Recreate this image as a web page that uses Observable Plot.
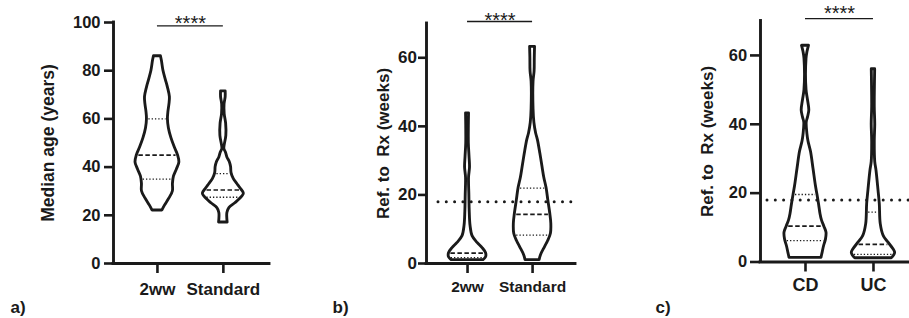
<!DOCTYPE html>
<html><head><meta charset="utf-8">
<script src="https://cdn.jsdelivr.net/npm/d3@7"></script>
<script src="https://cdn.jsdelivr.net/npm/@observablehq/plot@0.6"></script>
<style>
body{margin:0;background:#fff;}
#wrap{position:relative;width:909px;height:318px;overflow:hidden;background:#fff;}
#wrap svg{position:absolute;top:0;}
</style></head><body><div id="wrap"></div>
<script>
// ---------- Panel a: median age ----------
const aCats = ["2ww", "Standard"];
const aTicks = [0, 20, 40, 60, 80, 100];
// violin profiles: [value, half-width in category units]
const a2ww = [[86,.053],[84,.068],[80,.091],[76,.129],[73,.159],[69,.189],[66,.182],[63,.167],[60,.159],[56,.174],[52,.212],[48,.265],[45,.311],[42,.333],[39,.295],[36,.25],[33,.235],[30,.235],[27,.182],[24,.114],[22,.076]];
const aStd = [[71.4,.035],[69,.035],[66,.018],[62,.02],[58,.042],[53,.045],[49,.02],[47.5,.015],[46,.04],[44,.061],[42,.098],[40,.117],[37.5,.124],[35,.159],[33,.212],[31,.265],[29,.311],[27.6,.283],[25,.182],[23,.091],[21,.061],[17,.065]];
const aQuart = [[35, 45, 60], [27.5, 30.5, 37.3]]; // q1, median, q3
const aSig = 98.6;

// ---------- Panel b: referral to treatment, 2ww vs standard ----------
const bCats = ["2ww", "Standard"];
const bTicks = [0, 20, 40, 60];
const b2ww = [[43.8,.023],[40,.02],[35,.02],[31,.031],[28,.038],[25,.023],[20,.028],[15,.034],[11,.046],[8,.077],[6,.154],[4.5,.231],[3,.285],[1.8,.285],[1,.246]];
const bStd = [[63.2,.038],[60,.034],[56,.031],[53,.015],[45,.015],[41,.028],[38,.054],[36,.082],[32,.12],[28,.154],[25,.18],[22,.215],[18.4,.242],[14.5,.272],[11.6,.288],[8.7,.282],[6.5,.238],[4.8,.192],[2.5,.131],[1,.108]];
const bQuart = [[1.7, 3.0, null], [8.3, 14.3, 22]];
const bSig = 70.6;
const bRef = 18;

// ---------- Panel c: referral to treatment, CD vs UC ----------
const cCats = ["CD", "UC"];
const cTicks = [0, 20, 40, 60];
const cCD = [[62.8,.051],[61,.029],[59,.015],[50,.015],[47,.037],[44,.056],[42,.037],[40.5,.018],[37,.029],[35,.044],[32,.081],[27,.118],[22,.154],[19.5,.176],[16.8,.199],[13.9,.221],[12,.243],[10.2,.279],[8.5,.309],[6.5,.301],[4.5,.272],[2.5,.25],[1.2,.235]];
const cUC = [[56,.025],[45,.019],[40,.026],[35,.019],[29,.026],[26.6,.044],[20.8,.074],[16.8,.093],[11,.107],[7.5,.151],[5.6,.221],[3.7,.294],[2.7,.319],[1.8,.301],[1.1,.269]];
const cQuart = [[6.2, 10.4, 19.6], [2.2, 5.1, 14.5]];
const cSig = 70.7;
const cRef = 18;

const stars = "****";
const ink = "#1a1a1a";

function hwAt(profile, v) {
  for (let k = 0; k < profile.length - 1; k++) {
    const [v0, w0] = profile[k], [v1, w1] = profile[k + 1];
    if (v <= v0 && v >= v1) return w0 + (w1 - w0) * (v - v0) / (v1 - v0);
  }
  return 0;
}

function panel(o) {
  const pxPerUnit = (o.width - o.marginLeft - o.marginRight) / (o.xDomain[1] - o.xDomain[0]);
  const inset = 1.9 / pxPerUnit;
  const violinRows = o.groups.flatMap((g, i) => g.map(([v, w]) => ({g: i, v, x1: i + 1 - w, x2: i + 1 + w})));
  const qRows = o.quartiles.flatMap((qs, i) => qs.map((v, j) => v == null ? null : ({
    g: i, v, kind: j === 1 ? "median" : "quartile",
    x1: i + 1 - Math.max(0, hwAt(o.groups[i], v) - inset),
    x2: i + 1 + Math.max(0, hwAt(o.groups[i], v) - inset)
  })).filter(Boolean));
  const marks = [
    Plot.areaX(violinRows, {y: "v", x1: "x1", x2: "x2", z: "g", curve: "catmull-rom", fill: "white", stroke: ink, strokeWidth: 2.85, strokeLinejoin: "round"}),
    Plot.ruleY(qRows.filter(d => d.kind === "quartile"), {y: "v", x1: "x1", x2: "x2", stroke: ink, strokeWidth: 1.3, strokeDasharray: "1.3,2"}),
    Plot.ruleY(qRows.filter(d => d.kind === "median"), {y: "v", x1: "x1", x2: "x2", stroke: ink, strokeWidth: 1.7, strokeDasharray: "4.5,2.5"})
  ];
  if (o.ref != null) marks.push(Plot.ruleY([o.ref], {insetLeft: o.refInset, stroke: ink, strokeWidth: 3, strokeDasharray: "0,8.3", strokeLinecap: "round"}));
  marks.push(
    Plot.ruleX([o.xDomain[0]], {y1: () => o.yDomain[0], y2: () => o.yDomain[1], stroke: ink, strokeWidth: 2.9, strokeLinecap: "square"}),
    Plot.ruleY([o.yDomain[0]], {x1: () => o.xDomain[0], x2: () => o.xDomain[1], stroke: ink, strokeWidth: 2.9, strokeLinecap: "square"}),
    Plot.axisY({ticks: o.yTicks, tickSize: o.yTickSize, tickPadding: o.yTickPad, fontSize: o.tickFont, strokeWidth: 2.6, label: null, fill: ink, stroke: ink}),
    Plot.axisX({ticks: [1, 2], tickFormat: d => o.cats[d - 1], tickSize: 10, tickPadding: o.catPad, fontSize: o.catFont, strokeWidth: 2.6, label: null, fill: ink, stroke: ink}),
    Plot.ruleY([o.sig], {x1: () => 1, x2: () => 2, stroke: ink, strokeWidth: 1.4}),
    Plot.text([stars], {x: () => 1.5, y: () => o.sig, text: d => d, lineAnchor: "bottom", dy: o.starsDy, fontSize: 20, fontWeight: "normal", fill: ink}),
    Plot.text([o.yLabel], {frameAnchor: "left", textAnchor: "middle", rotate: -90, dx: o.labelDx, fontSize: o.labelFont, text: d => d, fill: ink}),
    Plot.text([o.tag], {frameAnchor: "bottom-left", textAnchor: "start", lineAnchor: "bottom", dx: o.tagDx, dy: o.tagDy, fontSize: 17, text: d => d, fill: ink})
  );
  const svg = Plot.plot({
    width: o.width, height: 318,
    marginLeft: o.marginLeft, marginRight: o.marginRight, marginTop: o.marginTop, marginBottom: o.marginBottom,
    x: {domain: o.xDomain}, y: {domain: o.yDomain},
    style: {fontFamily: "'Liberation Sans', Arial, sans-serif", fontWeight: "bold", color: ink, background: "transparent", overflow: "visible"},
    marks
  });
  svg.style.left = o.left + "px";
  return svg;
}

const wrap = document.getElementById("wrap");
wrap.append(panel({
  left: 0, width: 300, marginLeft: 113, marginRight: 31, marginTop: 22, marginBottom: 55,
  xDomain: [1/3, 2.7], yDomain: [0, 100], yTicks: aTicks, cats: aCats,
  groups: [a2ww, aStd], quartiles: aQuart, sig: aSig, starsDy: 3.7,
  yTickSize: 9, yTickPad: 4, tickFont: 16.5, catFont: 17, catPad: 9,
  yLabel: "Median age (years)", labelDx: -65, labelFont: 17.5,
  tag: "a)", tagDx: -103, tagDy: 49
}));
wrap.append(panel({
  left: 300, width: 300, marginLeft: 126, marginRight: 25, marginTop: 23, marginBottom: 55,
  xDomain: [0.369, 2.66], yDomain: [0, 70], yTicks: bTicks, cats: bCats,
  groups: [b2ww, bStd], quartiles: bQuart, sig: bSig, starsDy: 5.3, ref: bRef, refInset: 12,
  yTickSize: 8, yTickPad: 1.5, tickFont: 17, catFont: 15.5, catPad: 7.5,
  yLabel: "Ref. to\u00a0 Rx (weeks)", labelDx: -43, labelFont: 17,
  tag: "b)", tagDx: -94, tagDy: 49
}));
wrap.append(panel({
  left: 600, width: 309, marginLeft: 160, marginRight: 0, marginTop: 20.5, marginBottom: 56.5,
  xDomain: [0.338, 2.53], yDomain: [0, 70], yTicks: cTicks, cats: cCats,
  groups: [cCD, cUC], quartiles: cQuart, sig: cSig, starsDy: 1.7, ref: cRef, refInset: 7,
  yTickSize: 10, yTickPad: 3.3, tickFont: 16.5, catFont: 18, catPad: 6.7,
  yLabel: "Ref. to\u00a0 Rx (weeks)", labelDx: -53, labelFont: 17,
  tag: "c)", tagDx: -105, tagDy: 50.5
}));
</script></body></html>
